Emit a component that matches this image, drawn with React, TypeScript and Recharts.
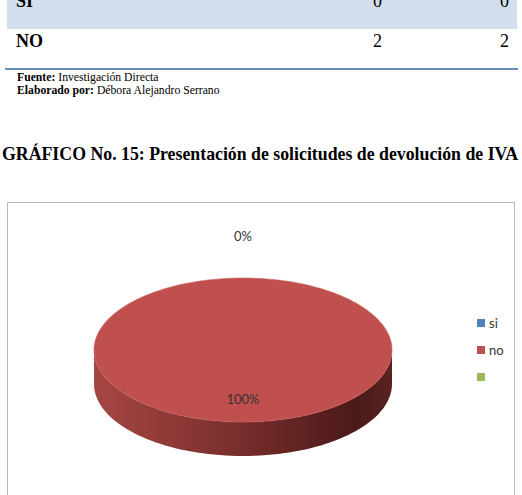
import React from "react";
import { PieChart, Pie, Cell, Legend } from "recharts";

const categories = ["si", "no", ""];
const values = [0, 2, 0];
const colors = ["#4f81bd", "#c0504d", "#9bbb59"];

const tableRows = ["SI", "NO"];
const tableFreq = [0, 2];
const tablePct = [0, 2];

const data = categories.map((name, i) => ({ name, value: values[i] }));

const KY = 72 / 149;
const DEPTH = 34;
const SERIF = "'Times New Roman', 'Liberation Serif', serif";
const SANS = "Lato, 'Open Sans', sans-serif";

const rad = (a: number) => (a * Math.PI) / 180;

function Sector3D(props: any) {
  const { cx, cy, outerRadius, startAngle, endAngle, fill, index } = props;
  if (Math.abs(endAngle - startAngle) < 0.01) return <g />;
  const rx = outerRadius;
  const ry = outerRadius * KY;
  const pt = (a: number, dy = 0) =>
    `${(cx + rx * Math.cos(rad(a))).toFixed(2)},${(cy - ry * Math.sin(rad(a)) + dy).toFixed(2)}`;

  const lo = Math.min(startAngle, endAngle);
  const hi = Math.max(startAngle, endAngle);
  const full = hi - lo >= 359.99;

  // top face
  const top: string[] = full ? [] : [`${cx},${cy}`];
  const steps = 160;
  for (let s = 0; s <= steps; s++) top.push(pt(lo + ((hi - lo) * s) / steps));

  // front wall, where the rim faces the viewer
  const sides: string[] = [];
  for (let k = -2; k <= 2; k++) {
    const a0 = Math.max(lo, 180 + 360 * k);
    const a1 = Math.min(hi, 360 + 360 * k);
    if (a1 - a0 < 0.01) continue;
    const pts: string[] = [];
    const n = 80;
    for (let s = 0; s <= n; s++) pts.push(pt(a0 + ((a1 - a0) * s) / n));
    for (let s = n; s >= 0; s--) pts.push(pt(a0 + ((a1 - a0) * s) / n, DEPTH));
    sides.push(pts.join(" "));
  }

  const gid = `side-${index}`;
  return (
    <g>
      <defs>
        <linearGradient id={gid} gradientUnits="userSpaceOnUse" x1={cx - rx} y1={0} x2={cx + rx} y2={0}>
          <stop offset="0%" stopColor="#a64643" />
          <stop offset="45%" stopColor="#7c302e" />
          <stop offset="88%" stopColor="#4a1a19" />
          <stop offset="100%" stopColor="#5a2220" />
        </linearGradient>
      </defs>
      {sides.map((p, i) => (
        <polygon key={i} points={p} fill={`url(#${gid})`} />
      ))}
      <polygon points={top.join(" ")} fill={fill} stroke="#c7605d" strokeWidth={0.6} />
    </g>
  );
}

function renderLabel(props: any) {
  const { cx, cy, midAngle, outerRadius, percent, name } = props;
  if (!name) return null;
  const ry = outerRadius * KY;
  const r = percent === 0 ? ry + 42 : ry * 0.68;
  const x = cx + (percent === 0 ? 0 : outerRadius * 0.68) * Math.cos(rad(midAngle));
  const y = cy - r * Math.sin(rad(midAngle));
  return (
    <text x={x} y={y} textAnchor="middle" dominantBaseline="central" fill="#333" fontSize={13} fontFamily={SANS}>
      {`${Math.round(percent * 100)}%`}
    </text>
  );
}

function LegendBox() {
  return (
    <div style={{ fontFamily: SANS, fontSize: 13, color: "#333" }}>
      {categories.map((c, i) => (
        <div key={i} style={{ height: 27, display: "flex", alignItems: "center" }}>
          <span style={{ width: 8, height: 8, background: colors[i], display: "inline-block", marginRight: 4 }} />
          <span>{c}</span>
        </div>
      ))}
    </div>
  );
}

export default function App() {
  return (
    <div
      style={{
        position: "absolute",
        left: 0,
        top: 0,
        width: 522,
        height: 495,
        overflow: "hidden",
        background: "#fff",
      }}
    >
      {/* table tail */}
      <div style={{ position: "absolute", left: 7, top: 0, width: 510, height: 29, background: "#d3dfee" }} />
      {tableRows.map((r, i) => {
        const top = i === 0 ? -8 : 32;
        return (
          <React.Fragment key={r}>
            <div style={{ position: "absolute", left: 16, top, fontFamily: SERIF, fontWeight: 700, fontSize: 18, lineHeight: "18px" }}>
              {r}
            </div>
            <div style={{ position: "absolute", left: 373, top, fontFamily: SERIF, fontSize: 18, lineHeight: "18px" }}>
              {tableFreq[i]}
            </div>
            <div style={{ position: "absolute", left: 500, top, fontFamily: SERIF, fontSize: 18, lineHeight: "18px" }}>
              {tablePct[i]}
            </div>
          </React.Fragment>
        );
      })}
      <div style={{ position: "absolute", left: 5, top: 68, width: 513, height: 2, background: "#6a8cc0" }} />
      <div style={{ position: "absolute", left: 17, top: 72, fontFamily: SERIF, fontSize: 11.7, lineHeight: "12px", whiteSpace: "nowrap" }}>
        <b>Fuente:</b> Investigación Directa
      </div>
      <div style={{ position: "absolute", left: 17, top: 85, fontFamily: SERIF, fontSize: 11.7, lineHeight: "12px", whiteSpace: "nowrap" }}>
        <b>Elaborado por:</b> Débora Alejandro Serrano
      </div>
      <div
        style={{
          position: "absolute",
          left: 2,
          top: 145,
          fontFamily: SERIF,
          fontWeight: 700,
          fontSize: 17.8,
          lineHeight: "18px",
          whiteSpace: "nowrap",
        }}
      >
        GRÁFICO No. 15: Presentación de solicitudes de devolución de IVA
      </div>

      {/* chart box */}
      <div
        style={{
          position: "absolute",
          left: 7,
          top: 202,
          width: 508,
          height: 310,
          border: "1px solid #b8b8b8",
          boxSizing: "border-box",
        }}
      />
      <div style={{ position: "absolute", left: 7, top: 202 }}>
        <PieChart width={509} height={300}>
          <Pie
            data={data}
            dataKey="value"
            nameKey="name"
            cx={231}
            cy={143}
            outerRadius={149}
            startAngle={90}
            endAngle={-270}
            stroke="none"
            shape={Sector3D}
            label={renderLabel}
            labelLine={false}
            isAnimationActive={false}
          >
            {data.map((d, i) => (
              <Cell key={i} fill={colors[i]} />
            ))}
          </Pie>
          <Legend
            layout="vertical"
            content={() => <LegendBox />}
            wrapperStyle={{ left: 470, top: 107, width: 40, right: "auto", bottom: "auto" }}
          />
        </PieChart>
      </div>
    </div>
  );
}
